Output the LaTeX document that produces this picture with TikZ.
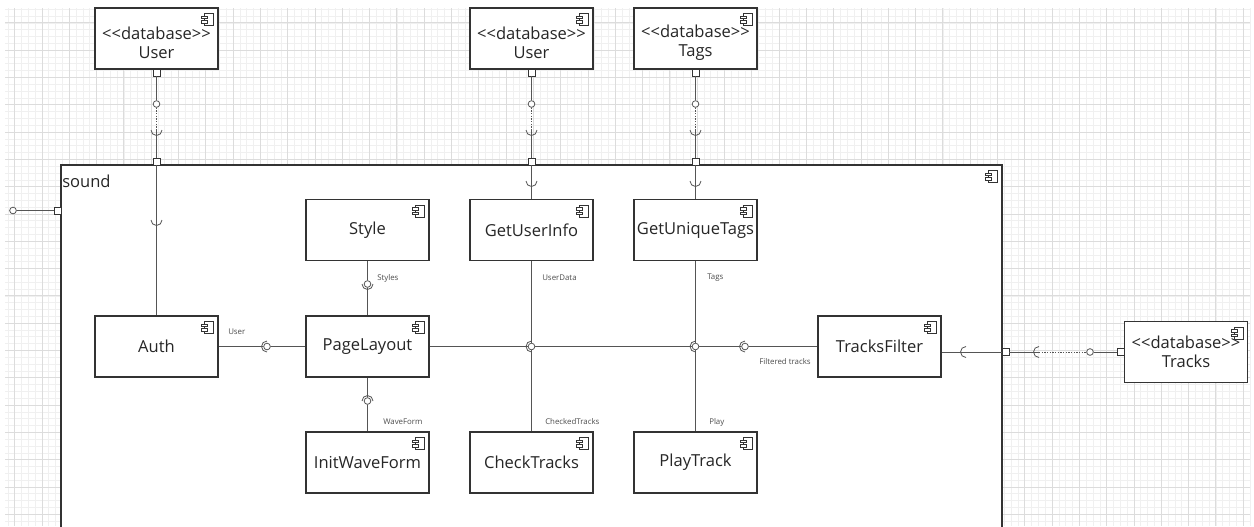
\documentclass[tikz,border=0pt]{standalone}
\usepackage{fontspec}
\setmainfont{Open Sans}[Ligatures=TeXOff]
\usepackage{tikz}
\usetikzlibrary{shapes, arrows}

\definecolor{gridmin}{HTML}{F0F0F0}
\definecolor{gridmaj}{HTML}{DCDCDC}
\definecolor{boxline}{HTML}{333333}
\definecolor{wirecol}{HTML}{555555}
\definecolor{labeltext}{HTML}{4D4D4D}

\tikzset{
    comp/.style={draw=boxline, line width=0.8pt, fill=white, minimum width=92.25pt, minimum height=45.75pt, inner sep=0pt, align=center, text=black!85, font=\fontsize{12.4}{14.25}\selectfont},
    port/.style={draw=boxline, fill=white, line width=0.6pt, minimum size=5.25pt, inner sep=0pt},
    ball/.style={circle, draw=wirecol, fill=white, line width=0.6pt, minimum size=5pt, inner sep=0pt},
    wire/.style={draw=wirecol, line width=0.75pt},
    depend/.style={draw=wirecol, line width=0.75pt, dash pattern={on 1pt off 1pt}},
    sock/.style={draw=wirecol, line width=0.6pt},
    tag/.style={anchor=west, inner sep=0pt, text=labeltext, font=\fontsize{5.9}{7}\selectfont},
    gridminor/.style={draw=gridmin, line width=0.4pt},
    gridmajor/.style={draw=gridmaj, line width=0.5pt},
}

% component icon in the top right corner of a box
\newcommand{\compicon}[1]{%
    \draw[draw=boxline, line width=0.5pt, fill=white] ([shift={(-14,6)}]#1.north east) rectangle ([shift={(-5,18)}]#1.north east);
    \draw[draw=boxline, line width=0.5pt, fill=white] ([shift={(-17,8.5)}]#1.north east) rectangle ([shift={(-11,11)}]#1.north east);
    \draw[draw=boxline, line width=0.5pt, fill=white] ([shift={(-17,13)}]#1.north east) rectangle ([shift={(-11,15.5)}]#1.north east);
}
% sockets (open side towards the ball)
\newcommand{\sockdown}[1]{\draw[sock] ([shift={(5.5,0)}]#1) arc[start angle=0, end angle=180, radius=4.125pt];}
\newcommand{\sockup}[1]{\draw[sock] ([shift={(-5.5,0)}]#1) arc[start angle=180, end angle=360, radius=4.125pt];}
\newcommand{\sockleft}[1]{\draw[sock] ([shift={(0,5.5)}]#1) arc[start angle=90, end angle=270, radius=4.125pt];}

\begin{document}
\begin{tikzpicture}[x=0.75pt,y=0.75pt,yscale=-1,xscale=1]
    \useasboundingbox (0,0) rectangle (1254,526);
    \clip (0,0) rectangle (1254,526);

    % Grid
    \foreach \i in {-1,...,181} \draw[gridminor] (14.6+6.825*\i,8) -- (14.6+6.825*\i,526);
    \foreach \j in {-2,...,73} \draw[gridminor] (5,22.8+6.825*\j) -- (1250,22.8+6.825*\j);
    \foreach \i in {0,...,45} \draw[gridmajor] (14.6+27.3*\i,8) -- (14.6+27.3*\i,526);
    \foreach \j in {0,...,18} \draw[gridmajor] (5,22.8+27.3*\j) -- (1250,22.8+27.3*\j);

    % Container
    \node[draw=boxline, line width=0.8pt, fill=white, minimum width=705.75pt, minimum height=300pt, inner sep=0pt] (sound) at (531.5,365) {};
    \node[anchor=west, inner sep=0pt, text=black!85, font=\fontsize{12.4}{14.25}\selectfont] (soundname) at (62,181) {sound};
    \compicon{sound}

    % Databases
    \node[comp] (dbUserA) at (156.5,38.5) {\rule{0pt}{16pt}<<database>>\\User};
    \node[comp] (dbUserB) at (531.5,38.5) {\rule{0pt}{16pt}<<database>>\\User};
    \node[comp] (dbTags) at (695.5,38.5) {\rule{0pt}{16pt}<<database>>\\Tags};
    \node[comp] (dbTracks) at (1186,352) {<<database>>\\Tracks};

    % Components
    \node[comp] (style) at (367.5,230) {Style};
    \node[comp] (userinfo) at (531.5,230) {GetUserInfo};
    \node[comp] (uniquetags) at (695.5,230) {GetUniqueTags};
    \node[comp] (auth) at (156.5,346.5) {Auth};
    \node[comp] (pagelayout) at (367.5,346.5) {PageLayout};
    \node[comp] (tracksfilter) at (879.5,346.5) {TracksFilter};
    \node[comp] (initwave) at (367.5,462.5) {InitWaveForm};
    \node[comp] (checktracks) at (531.5,462.5) {CheckTracks};
    \node[comp] (playtrack) at (695.5,462.5) {PlayTrack};
    \foreach \c in {dbUserA,dbUserB,dbTags,dbTracks,style,userinfo,uniquetags,auth,pagelayout,tracksfilter,initwave,checktracks,playtrack} {\compicon{\c}}

    % Ports
    \node[port] (pA1) at (156.5,72.5) {};
    \node[port] (pA2) at (156.5,161.5) {};
    \node[port] (pB1) at (531.5,72.5) {};
    \node[port] (pB2) at (531.5,161.5) {};
    \node[port] (pT1) at (695.5,72.5) {};
    \node[port] (pT2) at (695.5,161.5) {};
    \node[port] (pLeft) at (57.5,210.5) {};
    \node[port] (pRight) at (1005.5,352) {};
    \node[port] (pTracks) at (1121,352) {};

    % Balls
    \node[ball] (ballA) at (156.5,104) {};
    \node[ball] (ballB) at (531.5,104) {};
    \node[ball] (ballT) at (695.5,104) {};
    \node[ball] (ballL) at (13,210.5) {};
    \node[ball] (ballR) at (1090,352) {};
    \node[ball] (apUser) at (267,346.5) {};
    \node[ball] (apStyle) at (367.5,284) {};
    \node[ball] (apWave) at (367.5,401) {};
    \node[ball] (jUI) at (531.5,346.5) {};
    \node[ball] (jUT) at (695.5,346.5) {};
    \node[ball] (apFilter) at (745,346.5) {};

    % Sockets
    \coordinate (sockA) at (156.5,130);
    \coordinate (sockB) at (531.5,130);
    \coordinate (sockT) at (695.5,130);
    \coordinate (sockAuth) at (156.5,220);
    \coordinate (sockUI) at (531.5,181);
    \coordinate (sockUT) at (695.5,181);
    \coordinate (sockTF) at (966,352);
    \coordinate (sockR) at (1039,352);

    % Connection
    \draw[wire] (pA1) -- (ballA);
    \draw[depend] (ballA) -- (sockA);
    \draw[wire] (sockA) -- (pA2);
    \draw[wire] (pA2) -- (auth);
    \draw[wire] (pB1) -- (ballB);
    \draw[depend] (ballB) -- (sockB);
    \draw[wire] (sockB) -- (pB2);
    \draw[wire] (pB2) -- (userinfo);
    \draw[wire] (pT1) -- (ballT);
    \draw[depend] (ballT) -- (sockT);
    \draw[wire] (sockT) -- (pT2);
    \draw[wire] (pT2) -- (uniquetags);
    \draw[wire] (ballL) -- (pLeft);
    % Connection
    \draw[wire] (auth) -- (apUser) -- (pagelayout);
    \draw[wire] (style) -- (apStyle) -- (pagelayout);
    \draw[wire] (pagelayout) -- (apWave) -- (initwave);
    \draw[wire] (pagelayout) -- (jUI) -- (jUT) -- (apFilter) -- (tracksfilter);
    \draw[wire] (userinfo) -- (jUI) -- (checktracks);
    \draw[wire] (uniquetags) -- (jUT) -- (playtrack);
    % Connection
    \draw[wire] (tracksfilter.east |- pRight) -- (pRight);
    \draw[wire] (pRight) -- (sockR);
    \draw[depend] (sockR) -- (ballR);
    \draw[wire] (ballR) -- (pTracks);

    \sockdown{sockA} \sockdown{sockB} \sockdown{sockT}
    \sockdown{sockAuth} \sockdown{sockUI} \sockdown{sockUT}
    \sockleft{sockTF} \sockleft{sockR}
    \sockleft{apUser} \sockdown{apStyle} \sockup{apWave}
    \sockleft{jUI} \sockleft{jUT} \sockleft{apFilter}

    % Text Node
    \node[tag] (lblUser) at (228,332) {User};
    \node[tag] (lblStyles) at (377,278) {Styles};
    \node[tag] (lblUserData) at (542,278) {UserData};
    \node[tag] (lblTags) at (707,278) {Tags};
    \node[tag] (lblWave) at (383,422) {WaveForm};
    \node[tag] (lblChecked) at (545,422) {CheckedTracks};
    \node[tag] (lblPlay) at (709,422) {Play};
    \node[tag] (lblFiltered) at (759,362) {Filtered tracks};

\end{tikzpicture}
\end{document}
